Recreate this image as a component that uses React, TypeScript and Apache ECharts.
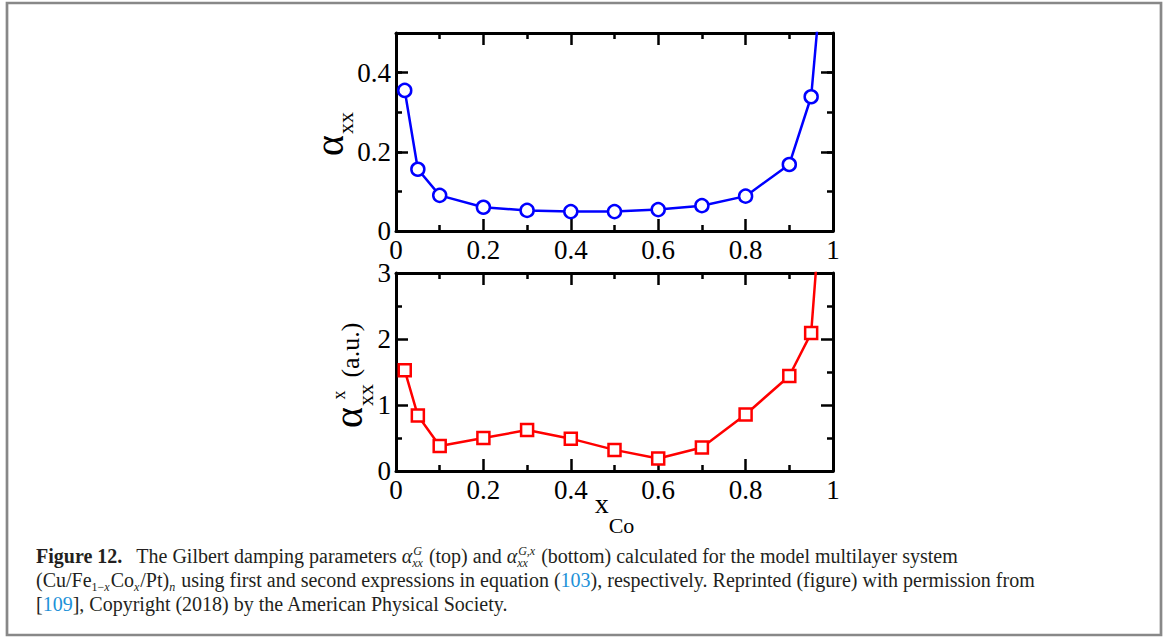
import React, { useEffect, useRef } from 'react';
import * as echarts from 'echarts';

// ---- data ----
const xCo = [0.02, 0.05, 0.1, 0.2, 0.3, 0.4, 0.5, 0.6, 0.7, 0.8, 0.9, 0.95, 0.98];
const alphaG = [0.355, 0.156, 0.09, 0.06, 0.052, 0.049, 0.049, 0.054, 0.064, 0.088, 0.168, 0.339, 0.71];
const alphaGx = [1.525, 0.84, 0.38, 0.5, 0.62, 0.49, 0.32, 0.19, 0.355, 0.856, 1.44, 2.09, 4.7];

const xTickValues = [0, 0.2, 0.4, 0.6, 0.8, 1];
const xTickLabels = ['0', '0.2', '0.4', '0.6', '0.8', '1'];
const topYTickValues = [0, 0.2, 0.4];
const topYTickLabels = ['0', '0.2', '0.4'];
const botYTickValues = [0, 1, 2, 3];
const botYTickLabels = ['0', '1', '2', '3'];

type Run = { t: string; s?: 'n' | 'b' | 'i' | 'l' };
type Item = { run: Run } | { gap: number } | { sup?: Run[]; sub?: Run[] };

const captionLines: Item[][] = [
  [
    { run: { t: 'Figure 12.', s: 'b' } },
    { gap: 14 },
    { run: { t: 'The Gilbert damping parameters ' } },
    { run: { t: 'α', s: 'i' } },
    { sup: [{ t: 'G', s: 'i' }], sub: [{ t: 'xx', s: 'i' }] },
    { run: { t: ' (top) and ' } },
    { run: { t: 'α', s: 'i' } },
    { sup: [{ t: 'G,x', s: 'i' }], sub: [{ t: 'xx', s: 'i' }] },
    { run: { t: ' (bottom) calculated for the model multilayer system' } },
  ],
  [
    { run: { t: '(Cu/Fe' } },
    { sub: [{ t: '1−' }, { t: 'x', s: 'i' }] },
    { run: { t: 'Co' } },
    { sub: [{ t: 'x', s: 'i' }] },
    { run: { t: '/Pt)' } },
    { sub: [{ t: 'n', s: 'i' }] },
    { run: { t: ' using first and second expressions in equation (' } },
    { run: { t: '103', s: 'l' } },
    { run: { t: '), respectively. Reprinted (figure) with permission from' } },
  ],
  [
    { run: { t: '[' } },
    { run: { t: '109', s: 'l' } },
    { run: { t: '], Copyright (2018) by the American Physical Society.' } },
  ],
];

const FONT = "'Liberation Serif'";
const CAP_SIZE = 20;
const SCR_SIZE = 12;
const CAP_COLOR = '#231f20';
const LINK_COLOR = '#1d91d8';
const CAP_X = 36;
const CAP_Y0 = 563;
const CAP_DY = 24;

function fnt(size: number, s?: string) {
  return `${s === 'b' ? 'bold ' : ''}${s === 'i' ? 'italic ' : ''}${size}px ${FONT}`;
}

let ctx: CanvasRenderingContext2D | null = null;
function measure(text: string, font: string): number {
  if (!ctx) ctx = document.createElement('canvas').getContext('2d');
  if (!ctx) return text.length * 8;
  ctx.font = font;
  return ctx.measureText(text).width;
}

function textEl(text: string, x: number, yb: number, size: number, font: string, fill: string) {
  return {
    type: 'text',
    x,
    y: yb - 0.34 * size,
    silent: true,
    style: { text, font, fill, align: 'left', verticalAlign: 'middle' },
  };
}

function layoutRuns(runs: Run[], x: number, yb: number, size: number, out: any[]): number {
  for (const r of runs) {
    const font = fnt(size, r.s);
    const lead = r.t.length - r.t.trimStart().length;
    const txt = r.t.trim();
    if (txt) {
      out.push(textEl(txt, x + measure(' '.repeat(lead), font), yb, size, font, r.s === 'l' ? LINK_COLOR : CAP_COLOR));
    }
    x += measure(r.t, font);
  }
  return x;
}

function runsWidth(runs: Run[] | undefined, size: number) {
  if (!runs) return 0;
  return runs.reduce((a, r) => a + measure(r.t, fnt(size, r.s)), 0);
}

function buildCaption(): any[] {
  const out: any[] = [];
  captionLines.forEach((line, li) => {
    const yb = CAP_Y0 + li * CAP_DY;
    let x = CAP_X;
    for (const it of line) {
      if ('run' in it) x = layoutRuns([it.run], x, yb, CAP_SIZE, out);
      else if ('gap' in it) x += it.gap;
      else {
        const ws = runsWidth(it.sup, SCR_SIZE);
        const wb = runsWidth(it.sub, SCR_SIZE);
        if (it.sup) layoutRuns(it.sup, x + 1, yb - 8, SCR_SIZE, out);
        if (it.sub) layoutRuns(it.sub, x, yb + 4, SCR_SIZE, out);
        x += Math.max(ws + 1, wb) + 1;
      }
    }
  });
  return out;
}

function buildAxisTitles(): any[] {
  const out: any[] = [];
  const AL = 40;
  const SUB = 22;
  const wA = measure('α', fnt(AL));
  const wSub = measure('xx', fnt(SUB));
  // top y title
  out.push({
    type: 'group',
    x: 343,
    y: 156,
    rotation: Math.PI / 2,
    children: [
      textEl('α', 0, 0, AL, fnt(AL), '#000'),
      textEl('xx', wA + 1, 10, SUB, fnt(SUB), '#000'),
    ],
  });
  // bottom y title
  const wSup = measure('x', fnt(18));
  out.push({
    type: 'group',
    x: 362,
    y: 428,
    rotation: Math.PI / 2,
    children: [
      textEl('α', 0, 0, AL, fnt(AL), '#000'),
      textEl('xx', wA + 1, 11, SUB, fnt(SUB), '#000'),
      textEl('x', wA + 1 + (wSub - wSup) / 2, -17, 18, fnt(18), '#000'),
      textEl('(a.u.)', wA + 1 + wSub + measure(' ', fnt(26)), -3, 26, fnt(26), '#000'),
    ],
  });
  // x title
  const wx = measure('x', fnt(28));
  const wco = measure('Co', fnt(22));
  const x0 = 614.5 - (wx + wco) / 2;
  out.push(textEl('x', x0, 513, 28, fnt(28), '#000'));
  out.push(textEl('Co', x0 + wx, 533, 22, fnt(22), '#000'));
  return out;
}

function lookup(values: number[], labels: string[]) {
  return (v: number) => {
    const i = values.findIndex((t) => Math.abs(t - v) < 1e-9);
    return i >= 0 ? labels[i] : '';
  };
}

const LINE = { color: '#000', width: 3 };
const TICK = { color: '#000', width: 2.5 };
const LABEL = { fontSize: 27, fontFamily: FONT, color: '#000' };

function xAxisCfg(grid: number, pos: 'top' | 'bottom', labels: boolean) {
  return {
    type: 'value',
    gridIndex: grid,
    position: pos,
    min: 0,
    max: 1,
    interval: 0.2,
    axisLine: { show: true, onZero: false, lineStyle: LINE },
    axisTick: { show: true, inside: true, length: 12, lineStyle: TICK },
    minorTick: { show: true, splitNumber: 2, length: 6, lineStyle: TICK },
    axisLabel: labels
      ? { show: true, margin: 5, ...LABEL, formatter: lookup(xTickValues, xTickLabels) }
      : { show: false },
    splitLine: { show: false },
    minorSplitLine: { show: false },
  };
}

function yAxisCfg(
  grid: number,
  pos: 'left' | 'right',
  min: number,
  max: number,
  interval: number,
  opts: { line: boolean; len: number; minor?: boolean; labels?: (v: number) => string }
) {
  return {
    type: 'value',
    gridIndex: grid,
    position: pos,
    min,
    max,
    interval,
    axisLine: { show: opts.line, onZero: false, lineStyle: LINE },
    axisTick: { show: true, inside: true, length: opts.len, lineStyle: TICK },
    minorTick: { show: !!opts.minor, splitNumber: 2, length: 6, lineStyle: TICK },
    axisLabel: opts.labels
      ? { show: true, margin: 5, ...LABEL, formatter: opts.labels, showMaxLabel: true }
      : { show: false },
    splitLine: { show: false },
    minorSplitLine: { show: false },
  };
}

export default function App() {
  const ref = useRef<HTMLDivElement>(null);
  useEffect(() => {
    if (!ref.current) return;
    const chart = echarts.init(ref.current, null, { renderer: 'svg' });
    const option: any = {
      animation: false,
      backgroundColor: '#fff',
      grid: [
        { left: 396, top: 33, width: 437, height: 198 },
        { left: 396, top: 273, width: 437, height: 198 },
      ],
      xAxis: [
        xAxisCfg(0, 'bottom', true),
        xAxisCfg(0, 'top', false),
        xAxisCfg(1, 'bottom', true),
        xAxisCfg(1, 'top', false),
      ],
      yAxis: [
        yAxisCfg(0, 'left', 0, 0.5, 0.2, { line: true, len: 12, labels: lookup(topYTickValues, topYTickLabels) }),
        yAxisCfg(0, 'left', 0, 0.5, 0.1, { line: false, len: 6 }),
        yAxisCfg(0, 'right', 0, 0.5, 0.2, { line: true, len: 12 }),
        yAxisCfg(0, 'right', 0, 0.5, 0.1, { line: false, len: 6 }),
        yAxisCfg(1, 'left', 0, 3, 1, { line: true, len: 12, minor: true, labels: lookup(botYTickValues, botYTickLabels) }),
        yAxisCfg(1, 'right', 0, 3, 1, { line: true, len: 12, minor: true }),
      ],
      series: [
        {
          type: 'line',
          xAxisIndex: 0,
          yAxisIndex: 0,
          data: xCo.map((x, i) => [x, alphaG[i]]),
          symbol: 'circle',
          symbolSize: 13,
          showAllSymbol: true,
          clip: true,
          lineStyle: { color: '#0000ff', width: 2.5 },
          itemStyle: { color: '#ffffff', borderColor: '#0000ff', borderWidth: 2.5 },
          emphasis: { disabled: true },
          z: 5,
        },
        {
          type: 'line',
          xAxisIndex: 2,
          yAxisIndex: 4,
          data: xCo.map((x, i) => [x, alphaGx[i]]),
          symbol: 'rect',
          symbolSize: 12,
          showAllSymbol: true,
          clip: true,
          lineStyle: { color: '#ff0000', width: 2.5 },
          itemStyle: { color: '#ffffff', borderColor: '#ff0000', borderWidth: 2.5 },
          emphasis: { disabled: true },
          z: 5,
        },
      ],
      graphic: [
        {
          type: 'rect',
          silent: true,
          shape: { x: 7, y: 3, width: 1154, height: 632 },
          style: { fill: 'none', stroke: '#888888', lineWidth: 2.7 },
        },
        ...buildAxisTitles(),
        ...buildCaption(),
      ],
    };
    chart.setOption(option);
    return () => chart.dispose();
  }, []);
  return (
    <div
      ref={ref}
      style={{ position: 'absolute', left: 0, top: 0, width: 1174, height: 639, background: '#fff' }}
    />
  );
}
